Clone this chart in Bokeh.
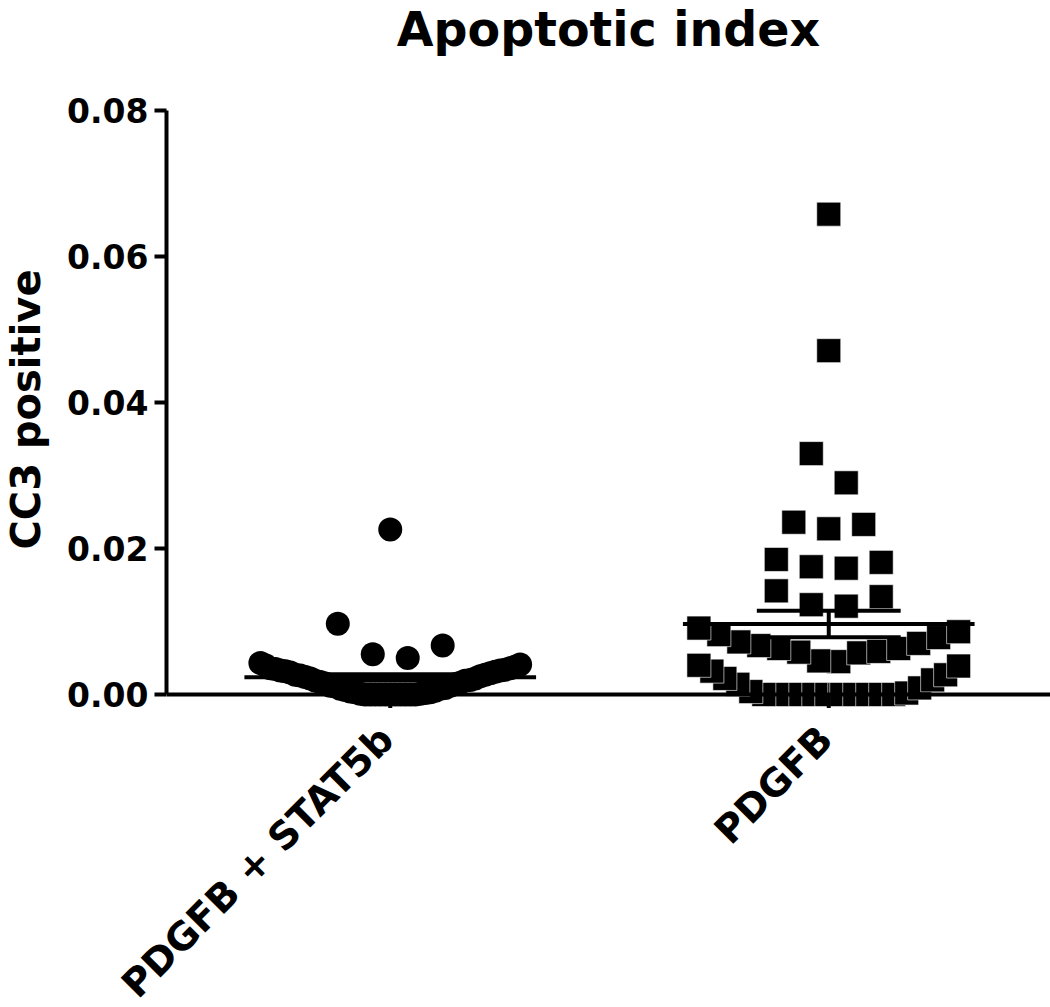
import math
import numpy as np
from bokeh.plotting import figure
from bokeh.layouts import column
from bokeh.models import FixedTicker, Span, NumeralTickFormatter, Title, Plot
from bokeh.core.properties import value
from bokeh.embed import file_html
from bokeh.resources import INLINE

# ---------------- data ----------------
title_text = "Apoptotic index"
y_axis_label = "CC3 positive"
categories = ["PDGFB + STAT5b", "PDGFB"]
y_ticks = [0.00, 0.02, 0.04, 0.06, 0.08]

pdgfb_stat5b = [
    0.0000, 0.0000, 0.0000, 0.0000, 0.0000, 0.0000, 0.0000, 0.0000, 0.0000, 0.0000,
    0.0000, 0.0001, 0.0001, 0.0002, 0.0003, 0.0003, 0.0004, 0.0005, 0.0006, 0.0008,
    0.0008, 0.0009, 0.0011, 0.0012, 0.0012, 0.0014, 0.0015, 0.0016, 0.0017, 0.0019,
    0.0019, 0.0020, 0.0022, 0.0022, 0.0024, 0.0025, 0.0026, 0.0027, 0.0027, 0.0029,
    0.0030, 0.0031, 0.0032, 0.0033, 0.0033, 0.0034, 0.0035, 0.0036, 0.0036, 0.0038,
    0.0040, 0.0041, 0.0043,
    0.0050, 0.0055, 0.0067, 0.0097, 0.0226,
]

pdgfb = [
    0.0000, 0.0000, 0.0000, 0.0000, 0.0000, 0.0000, 0.0000, 0.0000, 0.0000, 0.0000,
    0.0000, 0.0002, 0.0004, 0.0009, 0.0014, 0.0020, 0.0022, 0.0027, 0.0032, 0.0039,
    0.0040,
    0.0045, 0.0046, 0.0057, 0.0058, 0.0059, 0.0063, 0.0063, 0.0067, 0.0070, 0.0072,
    0.0078, 0.0082, 0.0086, 0.0091,
    0.0121, 0.0123, 0.0134, 0.0142,
    0.0173, 0.0175, 0.0181, 0.0185,
    0.0227, 0.0233, 0.0236,
    0.0290, 0.0330,
    0.0471, 0.0658,
]

# ---------------- layout constants ----------------
FONT = "DejaVu Sans"
PAGE_W, PAGE_H = 1050, 1007
MAIN_H = 708                         # main figure: title, y axis and data frame
LAB_H = PAGE_H - MAIN_H              # strip below it holding the category labels
B_LEFT, B_TOP = 165, 110
FRAME_W = PAGE_W - B_LEFT
FRAME_H = MAIN_H - B_TOP
Y_MAX = 0.08
Y_ZERO_PX = 584                      # frame top -> y = 0
PX_PER_Y = Y_ZERO_PX / Y_MAX
Y_MIN = -(FRAME_H - Y_ZERO_PX) / PX_PER_Y
PX_PER_X = 439.0                     # distance between the two group centres
FIRST_GROUP_PX = 224.0
X_MIN = 1 - FIRST_GROUP_PX / PX_PER_X
X_MAX = X_MIN + FRAME_W / PX_PER_X

MARKER = 24
MEAN_HALF_PX = 146
SEM_HALF_PX = 72
LW = 4
X_TICK_PX = 14
LABEL_DX_PX = -19
LABEL_DY_PX = 8


def swarm_offsets(values, row_h=0.0058, row_base=0.0014, natural=35.0, half_max=130.0):
    """GraphPad-like scatter: values binned into rows, spread centre-out."""
    vals = np.asarray(values, dtype=float)
    rows = np.floor((vals + row_base) / row_h).astype(int)
    off = np.zeros(len(vals))
    for r in np.unique(rows):
        idx = np.where(rows == r)[0]
        idx = idx[np.argsort(vals[idx], kind="stable")]
        n = len(idx)
        if n == 1:
            continue
        s = min(natural, 2 * half_max / (n - 1))
        slots = []
        if n % 2 == 1:
            slots.append(0.0)
            k = 1
            while len(slots) < n:
                slots.append(k)
                if len(slots) < n:
                    slots.append(-k)
                k += 1
        else:
            k = 0
            while len(slots) < n:
                slots.append(k + 0.5)
                if len(slots) < n:
                    slots.append(-(k + 0.5))
                k += 1
        off[idx] = np.array(slots) * s
    return off


p = figure(width=PAGE_W, height=MAIN_H, x_range=(X_MIN, X_MAX), y_range=(Y_MIN, Y_MAX),
           output_backend="svg", toolbar_location=None, x_axis_location=None,
           min_border_left=B_LEFT, min_border_right=0,
           min_border_top=B_TOP, min_border_bottom=0)
p.grid.visible = False
p.outline_line_color = None
p.background_fill_color = "white"
p.border_fill_color = "white"

# spacer between frame and title, then the title itself (outermost)
p.add_layout(Title(text=" ", text_font_size="40px", text_font=FONT, standoff=6), "above")
p.title.text = title_text
p.title.align = "center"
p.title.vertical_align = "top"
p.title.standoff = -4
p.title.text_font = FONT
p.title.text_font_style = "bold"
p.title.text_font_size = "47.5px"
p.title.text_color = "black"

groups = [pdgfb_stat5b, pdgfb]
markers = ["circle", "square"]
for gi, (vals, mk) in enumerate(zip(groups, markers), start=1):
    vals = np.asarray(vals, dtype=float)
    xs = gi + swarm_offsets(vals) / PX_PER_X
    if mk == "square":
        p.scatter(xs, vals, marker=mk, size=MARKER, fill_color="black",
                  line_color="white", line_width=0.6)
    else:
        p.scatter(xs, vals, marker=mk, size=MARKER, fill_color="black", line_color=None)
    mean = vals.mean()
    sem = vals.std(ddof=1) / math.sqrt(len(vals))
    mh = MEAN_HALF_PX / PX_PER_X
    sh = SEM_HALF_PX / PX_PER_X
    p.segment(x0=[gi - mh, gi - sh, gi - sh, gi], y0=[mean, mean + sem, mean - sem, mean - sem],
              x1=[gi + mh, gi + sh, gi + sh, gi], y1=[mean, mean + sem, mean - sem, mean + sem],
              line_color="black", line_width=LW)

# x axis line at y = 0 and tick marks at the group centres
p.add_layout(Span(location=0, dimension="width", line_color="black", line_width=LW))
cat_x = [i + 1 for i in range(len(categories))]
p.segment(x0=cat_x, x1=cat_x, y0=[0] * len(cat_x), y1=[-X_TICK_PX / PX_PER_Y] * len(cat_x),
          line_color="black", line_width=LW)

# y axis
ya = p.yaxis[0]
ya.ticker = FixedTicker(ticks=y_ticks)
ya.formatter = NumeralTickFormatter(format="0.00")
ya.bounds = (0, Y_MAX)
ya.axis_line_width = LW
ya.axis_line_color = "black"
ya.major_tick_line_width = LW
ya.major_tick_out = 12
ya.major_tick_in = 0
ya.minor_tick_line_color = None
ya.major_label_text_font = FONT
ya.major_label_text_font_style = "bold"
ya.major_label_text_font_size = "33px"
ya.major_label_text_color = "black"
ya.major_label_standoff = 6
ya.axis_label = y_axis_label
ya.axis_label_text_font = FONT
ya.axis_label_text_font_style = "bold"
ya.axis_label_text_font_size = "40px"
ya.axis_label_text_color = "black"
ya.axis_label_standoff = 15

# strip below the plot with the rotated category labels. If its frame can be
# freed from the column's frame alignment it spans the full page width;
# otherwise it stays aligned with the main frame and shares its x range.
can_unalign = "frame_align" in Plot.properties()
if can_unalign:
    p2_x_range = (X_MIN - B_LEFT / PX_PER_X, X_MAX)
    p2_left = 0
else:
    p2_x_range = p.x_range
    p2_left = B_LEFT
p2 = figure(width=PAGE_W, height=LAB_H, x_range=p2_x_range, y_range=(-LAB_H, 0),
            output_backend="svg", toolbar_location=None,
            x_axis_location=None, y_axis_location=None,
            min_border_left=p2_left, min_border_right=0,
            min_border_top=0, min_border_bottom=0)
if can_unalign:
    p2.frame_align = False
p2.grid.visible = False
p2.outline_line_color = None
p2.background_fill_color = "white"
p2.border_fill_color = "white"
p2.text(x=[c + LABEL_DX_PX / PX_PER_X for c in cat_x], y=[-LABEL_DY_PX] * len(cat_x),
        text=categories, angle=math.pi / 4, text_align="right", text_baseline="top",
        text_font=value(FONT), text_font_style="bold", text_font_size="38.5px",
        text_color="black")

layout = column(p, p2, spacing=0)
open("out.html", "w").write(file_html(layout, INLINE))
